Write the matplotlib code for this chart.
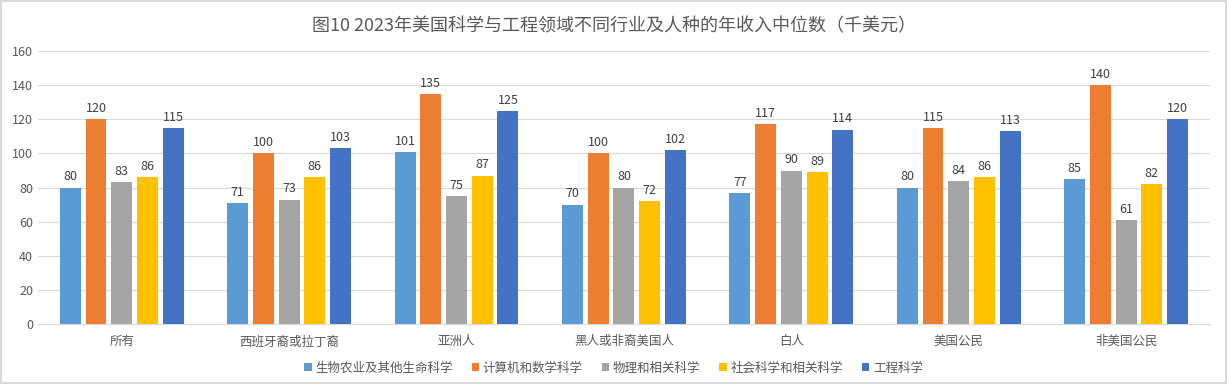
import numpy as np
import matplotlib.pyplot as plt

plt.rcParams['font.family'] = ['Noto Sans CJK SC', 'DejaVu Sans']

# 数据
groups = ['所有', '西班牙裔或拉丁裔', '亚洲人', '黑人或非裔美国人', '白人', '美国公民', '非美国公民']
series = ['生物农业及其他生命科学', '计算机和数学科学', '物理和相关科学', '社会科学和相关科学', '工程科学']
bio = [80, 71, 101, 70, 77, 80, 85]
comp = [120, 100, 135, 100, 117, 115, 140]
phys = [83, 73, 75, 80, 90, 84, 61]
soc = [86, 86, 87, 72, 89, 86, 82]
eng = [115, 103, 125, 102, 114, 113, 120]
colors = ['#5B9BD5', '#ED7D31', '#A5A5A5', '#FFC000', '#4472C4']

values = [bio, comp, phys, soc, eng]

fig = plt.figure(figsize=(12.27, 3.84), dpi=100)
fig.patch.set_edgecolor('#d9d9d9')
fig.patch.set_linewidth(1.5)
ax = fig.add_axes([0.031, 0.156, 0.955, 0.711])

x = np.arange(len(groups))
slot = 0.1536
width = 0.125
for i, (vals, name, c) in enumerate(zip(values, series, colors)):
    pos = x + (i - 2) * slot
    bars = ax.bar(pos, vals, width, color=c, label=name, zorder=3)
    ax.bar_label(bars, padding=3, fontsize=9, color='#404040')

ax.set_xlim(-0.5, len(groups) - 0.5)
ax.set_ylim(0, 160)
ax.set_yticks(range(0, 161, 20))
ax.set_xticks(x)
ax.set_xticklabels(groups)
ax.tick_params(axis='both', length=0, labelsize=9, labelcolor='#595959')
ax.tick_params(axis='x', pad=8)
ax.grid(axis='y', color='#d9d9d9', linewidth=0.8, zorder=0)
for s in ['left', 'right', 'top']:
    ax.spines[s].set_visible(False)
ax.spines['bottom'].set_color('#d9d9d9')

fig.suptitle('图10 2023年美国科学与工程领域不同行业及人种的年收入中位数（千美元）',
             y=0.955, fontsize=13, color='#595959')
fig.legend(loc='lower center', ncol=5, frameon=False, fontsize=9,
           bbox_to_anchor=(0.5, -0.005), handlelength=0.6, handleheight=0.6,
           columnspacing=1.5, handletextpad=0.3, labelcolor='#595959')

fig.savefig('out.png', dpi=100)
